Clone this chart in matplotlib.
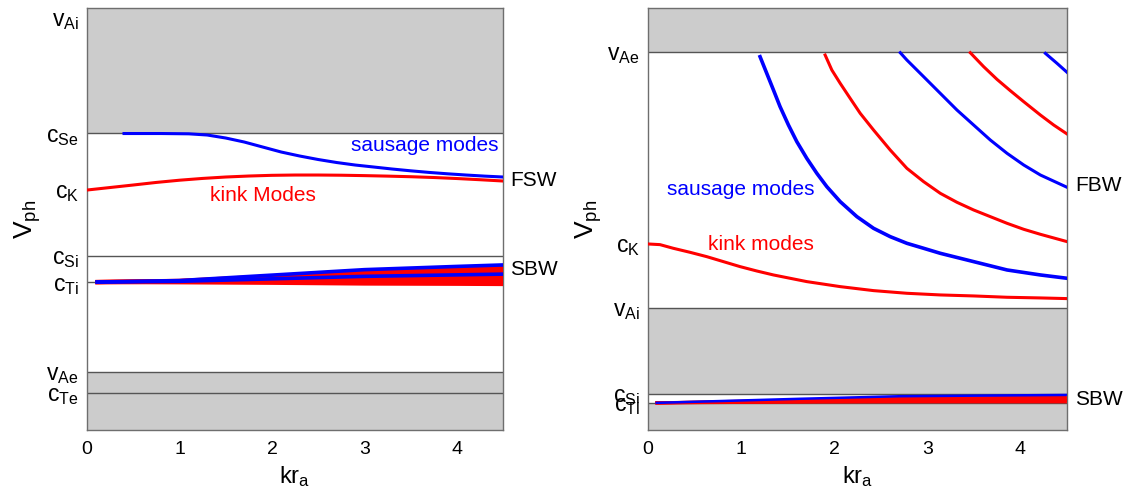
import numpy as np
import matplotlib
matplotlib.use("Agg")
import matplotlib.pyplot as plt

plt.rcParams['font.family'] = ['Liberation Sans', 'DejaVu Sans']
plt.rcParams['mathtext.fontset'] = 'custom'
plt.rcParams['mathtext.rm'] = 'Liberation Sans'
plt.rcParams['mathtext.it'] = 'Liberation Sans'
plt.rcParams['mathtext.default'] = 'regular'

GRAY = '#cccccc'
EDGE = '#6e6e6e'
BLUE = '#0000ff'
RED = '#ff0000'

# ---- photospheric tube (left) : characteristic speeds
L_ylim = (0.30, 2.00)
L_vAi, L_cSe, L_cK, L_cSi, L_cTi, L_vAe, L_cTe = 1.96, 1.496, 1.267, 1.001, 0.896, 0.534, 0.449
L_ticks = [L_cTe, L_vAe, L_cTi, L_cSi, L_cK, L_cSe, L_vAi]
L_labels = ['$c_{Te}$', '$v_{Ae}$', '$c_{Ti}$', '$c_{Si}$', '$c_K$', '$c_{Se}$', '$v_{Ai}$']

# fast surface waves
L_saus_x = [0.40, 0.80, 1.10, 1.30, 1.50, 1.70, 1.90, 2.10, 2.30, 2.50, 2.70,
            2.90, 3.10, 3.30, 3.50, 3.70, 3.90, 4.10, 4.30, 4.50]
L_saus_y = [1.4944, 1.4944, 1.4932, 1.4884, 1.4763, 1.4602, 1.4400, 1.4199, 1.4038, 1.3897, 1.3776,
            1.3675, 1.3595, 1.3514, 1.3442, 1.3377, 1.3321, 1.3272, 1.3228, 1.3192]
L_kink_x = [0.0, 0.25, 0.5, 0.75, 1.0, 1.25, 1.5, 1.75, 2.0, 2.25, 2.5, 2.75,
            3.0, 3.25, 3.5, 3.75, 4.0, 4.25, 4.5]
L_kink_y = [1.2668, 1.2769, 1.2870, 1.2974, 1.3063, 1.3135, 1.3192, 1.3232, 1.3260, 1.3272, 1.3272, 1.3264,
            1.3248, 1.3228, 1.3204, 1.3172, 1.3131, 1.3083, 1.3031]

# slow body waves
L_slow_x = [0.09, 1.0, 2.0, 3.0, 4.0, 4.5]
L_slow_kink = [
    [0.896, 0.901, 0.919, 0.937, 0.948, 0.953],
    [0.896, 0.900, 0.914, 0.928, 0.937, 0.941],
    [0.896, 0.898, 0.906, 0.913, 0.918, 0.920],
    [0.896, 0.897, 0.902, 0.908, 0.911, 0.912],
    [0.896, 0.897, 0.899, 0.902, 0.903, 0.904],
    [0.896, 0.895, 0.893, 0.890, 0.889, 0.888],
]
L_slow_saus = [
    [0.896, 0.902, 0.924, 0.946, 0.959, 0.965],
    [0.896, 0.899, 0.909, 0.919, 0.925, 0.928],
]

# ---- coronal tube (right) : characteristic speeds
R_ylim = (0.523, 2.172)
R_vAe, R_cK, R_vAi, R_cSi, R_cTi = 2.0, 1.25, 1.0, 0.664, 0.629
R_ticks = [R_cTi, R_cSi, R_vAi, R_cK, R_vAe]
R_labels = ['$c_{Ti}$', '$c_{Si}$', '$v_{Ai}$', '$c_K$', '$v_{Ae}$']

# fast body waves
R_kink0_x = [0.0, 0.129, 0.272, 0.452, 0.631, 0.810, 0.989, 1.168, 1.348, 1.527,
             1.706, 2.065, 2.423, 2.781, 3.140, 3.498, 3.857, 4.215, 4.502]
R_kink0_y = [1.2500, 1.2474, 1.2331, 1.2174, 1.2005, 1.1810, 1.1615, 1.1445, 1.1289, 1.1159,
             1.1029, 1.0833, 1.0677, 1.0573, 1.0508, 1.0469, 1.0417, 1.0391, 1.0365]
R_saus1_x = [1.204, 1.276, 1.348, 1.419, 1.509, 1.599, 1.706, 1.814, 1.921, 2.065,
             2.244, 2.423, 2.602, 2.781, 2.961, 3.140, 3.498, 3.857, 4.215, 4.502]
R_saus1_y = [1.9818, 1.9167, 1.8516, 1.7865, 1.7148, 1.6497, 1.5846, 1.5260, 1.4740, 1.4154,
             1.3568, 1.3112, 1.2786, 1.2526, 1.2331, 1.2135, 1.1810, 1.1484, 1.1289, 1.1159]
R_kink1_x = [1.903, 1.975, 2.065, 2.172, 2.280, 2.423, 2.602, 2.781, 2.961,
             3.140, 3.319, 3.498, 3.677, 3.857, 4.036, 4.215, 4.502]
R_kink1_y = [1.9883, 1.9297, 1.8776, 1.8190, 1.7604, 1.6953, 1.6172, 1.5456, 1.4935,
             1.4479, 1.4128, 1.3828, 1.3568, 1.3307, 1.3073, 1.2878, 1.2591]
R_saus2_x = [2.710, 2.781, 2.961, 3.140, 3.319, 3.498, 3.677, 3.857, 4.036, 4.215, 4.502]
R_saus2_y = [1.9974, 1.9688, 1.9036, 1.8385, 1.7734, 1.7148, 1.6563, 1.6042, 1.5586, 1.5195, 1.4714]
R_kink2_x = [3.462, 3.606, 3.749, 3.892, 4.036, 4.215, 4.358, 4.502]
R_kink2_y = [1.9974, 1.9427, 1.8932, 1.8490, 1.8060, 1.7539, 1.7148, 1.6797]
R_saus3_x = [4.269, 4.394, 4.502]
R_saus3_y = [1.9948, 1.9557, 1.9206]

# slow body waves
R_slow_x = [0.08, 1.63, 2.70, 4.50]
R_slow_kink = [
    [0.629, 0.632, 0.633, 0.633],
    [0.629, 0.634, 0.637, 0.639],
    [0.629, 0.637, 0.642, 0.645],
    [0.629, 0.640, 0.647, 0.652],
]
R_slow_saus = [[0.629, 0.645, 0.655, 0.660]]

XMAX = 4.5


def setup(ax, ylim, ticks, labels):
    ax.set_xlim(0, XMAX)
    ax.set_ylim(*ylim)
    ax.set_xticks([0, 1, 2, 3, 4])
    ax.set_yticks(ticks)
    ax.set_yticklabels(labels)
    ax.tick_params(axis='both', length=0, colors='black')
    ax.tick_params(axis='x', labelsize=14, pad=8)
    ax.tick_params(axis='y', labelsize=16.5, pad=6)
    for s in ax.spines.values():
        s.set_color(EDGE)
        s.set_linewidth(1.0)
    ax.set_xlabel('$kr_a$', fontsize=17, labelpad=4)
    ax.set_ylabel('$V_{ph}$', fontsize=19, labelpad=2)


def hline(ax, y):
    ax.axhline(y, color='#555555', lw=1.0, zorder=1)


fig = plt.figure(figsize=(11.32, 5.04), dpi=100)

# left panel
ax1 = fig.add_axes([0.0769, 0.1468, 0.3675, 0.8373])
setup(ax1, L_ylim, L_ticks, L_labels)
ax1.axhspan(L_cSe, L_ylim[1], color=GRAY, lw=0, zorder=0)
ax1.axhspan(L_ylim[0], L_vAe, color=GRAY, lw=0, zorder=0)
for y in [L_cSe, L_cSi, L_cTi, L_vAe, L_cTe]:
    hline(ax1, y)
ax1.plot(L_saus_x, L_saus_y, color=BLUE, lw=2.2, zorder=3)
ax1.plot(L_kink_x, L_kink_y, color=RED, lw=2.2, zorder=3)
for ys in L_slow_kink:
    ax1.plot(L_slow_x, ys, color=RED, lw=3.0, zorder=3, solid_capstyle='butt')
for ys in L_slow_saus:
    ax1.plot(L_slow_x, ys, color=BLUE, lw=2.6, zorder=4, solid_capstyle='butt')
ax1.text(4.45, 1.448, 'sausage modes', color=BLUE, fontsize=15, ha='right', va='center')
ax1.text(1.90, 1.243, 'kink Modes', color=RED, fontsize=15, ha='center', va='center')
ax1.text(4.58, 1.307, 'FSW', fontsize=15, ha='left', va='center')
ax1.text(4.58, 0.945, 'SBW', fontsize=15, ha='left', va='center')

# right panel
ax2 = fig.add_axes([0.5724, 0.1468, 0.3701, 0.8373])
setup(ax2, R_ylim, R_ticks, R_labels)
ax2.axhspan(R_vAe, R_ylim[1], color=GRAY, lw=0, zorder=0)
ax2.axhspan(R_cSi, R_vAi, color=GRAY, lw=0, zorder=0)
ax2.axhspan(R_ylim[0], R_cTi, color=GRAY, lw=0, zorder=0)
for y in [R_vAe, R_vAi, R_cSi, R_cTi]:
    hline(ax2, y)
ax2.plot(R_kink0_x, R_kink0_y, color=RED, lw=2.2, zorder=3)
ax2.plot(R_saus1_x, R_saus1_y, color=BLUE, lw=2.6, zorder=3)
ax2.plot(R_kink1_x, R_kink1_y, color=RED, lw=2.2, zorder=3)
ax2.plot(R_saus2_x, R_saus2_y, color=BLUE, lw=2.2, zorder=3)
ax2.plot(R_kink2_x, R_kink2_y, color=RED, lw=2.2, zorder=3)
ax2.plot(R_saus3_x, R_saus3_y, color=BLUE, lw=2.2, zorder=3)
for ys in R_slow_kink:
    ax2.plot(R_slow_x, ys, color=RED, lw=2.2, zorder=3, solid_capstyle='butt')
for ys in R_slow_saus:
    ax2.plot(R_slow_x, ys, color=BLUE, lw=1.8, zorder=4, solid_capstyle='butt')
ax2.text(0.20, 1.461, 'sausage modes', color=BLUE, fontsize=15, ha='left', va='center')
ax2.text(0.645, 1.246, 'kink modes', color=RED, fontsize=15, ha='left', va='center')
ax2.text(4.59, 1.477, 'FBW', fontsize=15, ha='left', va='center')
ax2.text(4.59, 0.641, 'SBW', fontsize=15, ha='left', va='center')

fig.savefig('out.png', dpi=100)
